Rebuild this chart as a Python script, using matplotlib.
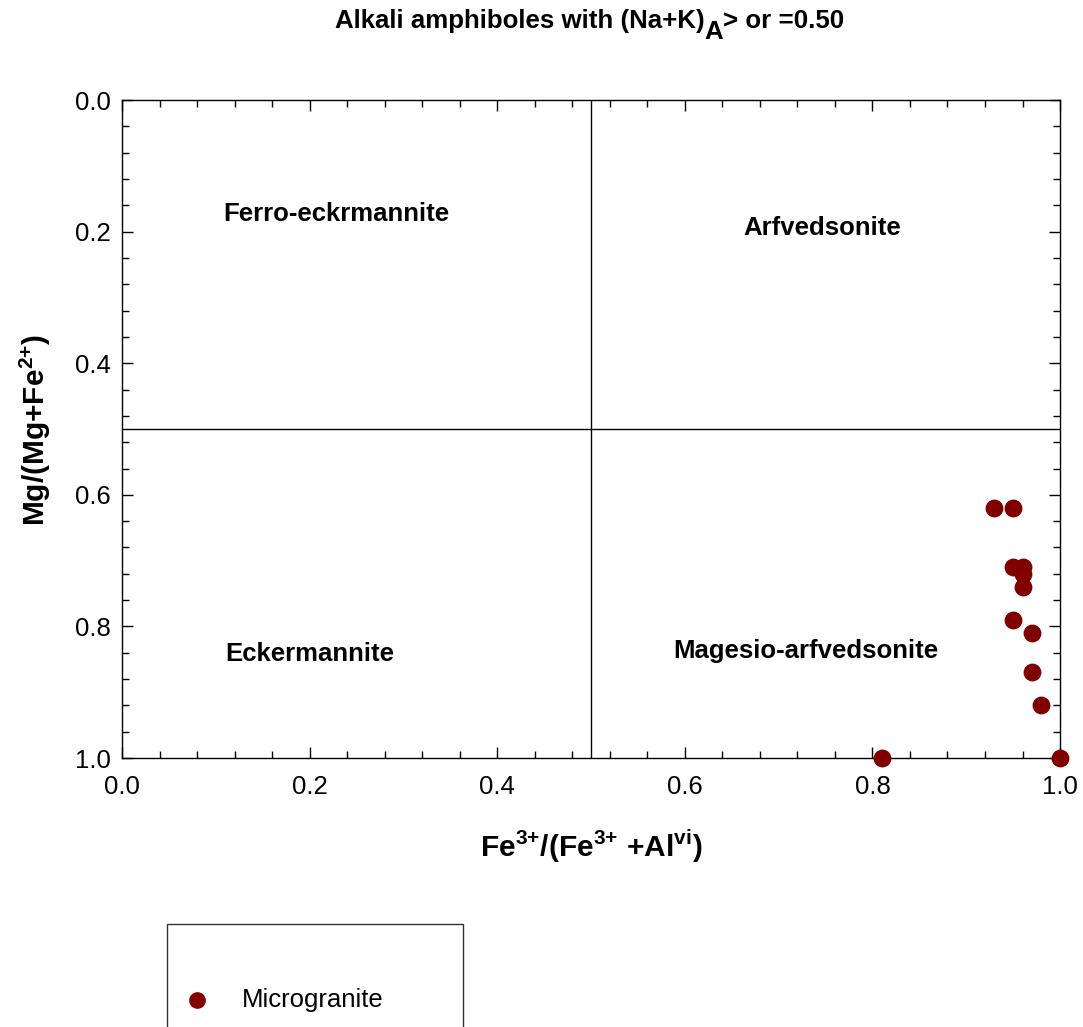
import numpy as np
import matplotlib
matplotlib.use("Agg")
import matplotlib.pyplot as plt
from matplotlib.patches import Rectangle
from matplotlib.lines import Line2D
from matplotlib.ticker import MultipleLocator

plt.rcParams['font.family'] = ['Liberation Sans', 'DejaVu Sans']
plt.rcParams['mathtext.fontset'] = 'custom'
plt.rcParams['mathtext.rm'] = 'Liberation Sans:bold'
plt.rcParams['mathtext.bf'] = 'Liberation Sans:bold'

# Microgranite analyses
fe3_ratio = [0.93, 0.95, 0.95, 0.96, 0.96, 0.96, 0.95, 0.97, 0.97, 0.98, 0.81, 1.00]
mg_ratio = [0.62, 0.62, 0.71, 0.71, 0.72, 0.74, 0.79, 0.81, 0.87, 0.92, 1.00, 1.00]

# field names and label positions (data coords)
field_names = ['Ferro-eckrmannite', 'Arfvedsonite', 'Eckermannite', 'Magesio-arfvedsonite']
field_x = [0.228, 0.746, 0.20, 0.729]
field_y = [0.173, 0.195, 0.842, 0.837]

dot_color = '#800000'
W, H = 1083, 1027

fig = plt.figure(figsize=(W / 100, H / 100), dpi=100)
ax = fig.add_axes([0.1127, 0.2619, 0.8661, 0.6407])

ax.set_xlim(0, 1)
ax.set_ylim(1, 0)

ax.axvline(0.5, color='black', lw=1.0)
ax.axhline(0.5, color='black', lw=1.0)

ax.scatter(fe3_ratio, mg_ratio, s=140, color=dot_color, zorder=5, clip_on=False)

for name, x, y in zip(field_names, field_x, field_y):
    ax.text(x, y, name, ha='center', va='center', fontsize=18.5, fontweight='bold')

ax.xaxis.set_major_locator(MultipleLocator(0.2))
ax.xaxis.set_minor_locator(MultipleLocator(0.04))
ax.yaxis.set_major_locator(MultipleLocator(0.2))
ax.yaxis.set_minor_locator(MultipleLocator(0.04))
ax.xaxis.set_major_formatter(plt.FormatStrFormatter('%.1f'))
ax.yaxis.set_major_formatter(plt.FormatStrFormatter('%.1f'))
ax.tick_params(which='both', direction='in', top=True, right=True, labelsize=18.5)
ax.tick_params(which='major', length=8, width=1)
ax.tick_params(which='minor', length=5, width=1)
ax.tick_params(axis='x', pad=12)
ax.tick_params(axis='y', pad=8)
for sp in ax.spines.values():
    sp.set_linewidth(1.0)

# axis labels
fig.text(591 / W, 1 - 857 / H,
         r'Fe$^{\text{3+}}$/(Fe$^{\text{3+}}$ +Al$^{\text{vi}}$)',
         ha='center', va='baseline', fontsize=21.5, fontweight='bold')
fig.text(35 / W, 1 - 430 / H, r'Mg/(Mg+Fe$^{\text{2+}}$)', rotation=90,
         ha='center', va='center', fontsize=21.5, fontweight='bold')

# title with full-size subscript A
base_y = 1 - 28 / H
t1 = fig.text(335 / W, base_y, 'Alkali amphiboles with (Na+K)', ha='left',
              va='baseline', fontsize=18.6, fontweight='bold')
t2 = ax.annotate('A', xy=(1, base_y), xycoords=(t1, 'figure fraction'),
                 xytext=(0, -8), textcoords='offset points', ha='left',
                 va='baseline', fontsize=18.6, fontweight='bold', annotation_clip=False)
ax.annotate('> or =0.50', xy=(1, base_y), xycoords=(t2, 'figure fraction'),
            ha='left', va='baseline', fontsize=18.6, fontweight='bold',
            annotation_clip=False)

# legend box
fig.add_artist(Rectangle((167 / W, -0.05), 296 / W, 0.05 + 1 - 924 / H,
                         transform=fig.transFigure, facecolor='white',
                         edgecolor='#333333', lw=1.0, clip_on=False))
fig.add_artist(Line2D([197 / W], [1 - 1000 / H], transform=fig.transFigure,
                      marker='o', markersize=11, color=dot_color, linestyle='none'))
fig.text(242 / W, 1 - 1000 / H, 'Microgranite', ha='left', va='center', fontsize=18.5)

fig.savefig('out.png', dpi=100)
